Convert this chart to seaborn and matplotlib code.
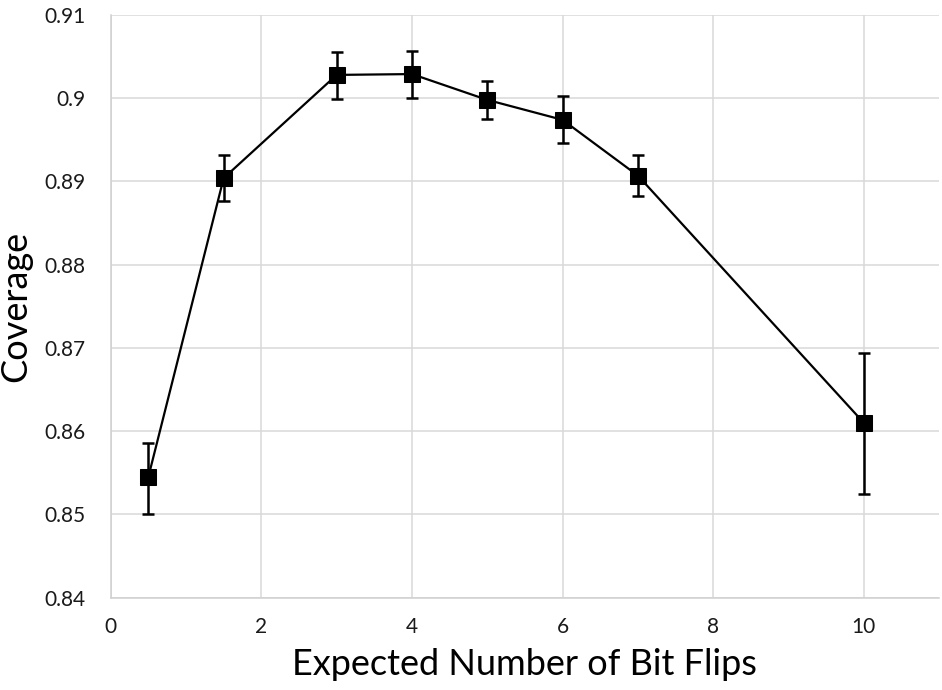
import matplotlib
matplotlib.use("Agg")
import matplotlib.pyplot as plt
import seaborn as sns
import pandas as pd

# Data
bit_flips = [0.5, 1.5, 3, 4, 5, 6, 7, 10]
coverage = [0.8545, 0.8904, 0.9028, 0.9029, 0.8998, 0.8974, 0.8907, 0.8610]
err_upper = [0.0041, 0.0028, 0.0028, 0.0028, 0.0023, 0.0029, 0.0025, 0.0084]
err_lower = [0.0044, 0.0027, 0.0029, 0.0029, 0.0023, 0.0028, 0.0025, 0.0085]
x_ticks = [0, 2, 4, 6, 8, 10]
y_ticks = [0.84, 0.85, 0.86, 0.87, 0.88, 0.89, 0.90, 0.91]
y_tick_labels = ["0.84", "0.85", "0.86", "0.87", "0.88", "0.89", "0.9", "0.91"]

sns.set_style("whitegrid")
plt.rcParams['font.family'] = ['Lato', 'DejaVu Sans']

df = pd.DataFrame({"x": bit_flips, "y": coverage})

fig = plt.figure(figsize=(9.42, 6.90), dpi=100)
ax = fig.add_axes([0.1175, 0.1338, 0.8795, 0.8445])

ax.errorbar(bit_flips, coverage, yerr=[err_lower, err_upper], fmt="none",
            ecolor="black", elinewidth=1.8, capsize=4, capthick=1.8, zorder=3)
sns.lineplot(data=df, x="x", y="y", ax=ax, color="black", linewidth=1.6,
             marker="s", markersize=11, markeredgecolor="black",
             markerfacecolor="black", zorder=4)

ax.set_xlim(0, 11)
ax.set_ylim(0.84, 0.91)
ax.set_xticks(x_ticks)
ax.set_xticklabels([str(t) for t in x_ticks])
ax.set_yticks(y_ticks)
ax.set_yticklabels(y_tick_labels)
ax.tick_params(axis="both", length=0, labelsize=15, colors="#1a1a1a")
ax.tick_params(axis="y", pad=18)
ax.tick_params(axis="x", pad=14)

ax.grid(True, color="#d9d9d9", linewidth=1.1)
for s in ["top", "right"]:
    ax.spines[s].set_visible(False)
for s in ["left", "bottom"]:
    ax.spines[s].set_color("#d0d0d0")
    ax.spines[s].set_linewidth(1.1)

ax.set_xlabel("Expected Number of Bit Flips", fontsize=26, color="black", labelpad=8)
ax.set_ylabel("Coverage", fontsize=26, color="black")
ax.yaxis.set_label_coords(-0.095, 0.5)

fig.savefig("out.png", dpi=100)
